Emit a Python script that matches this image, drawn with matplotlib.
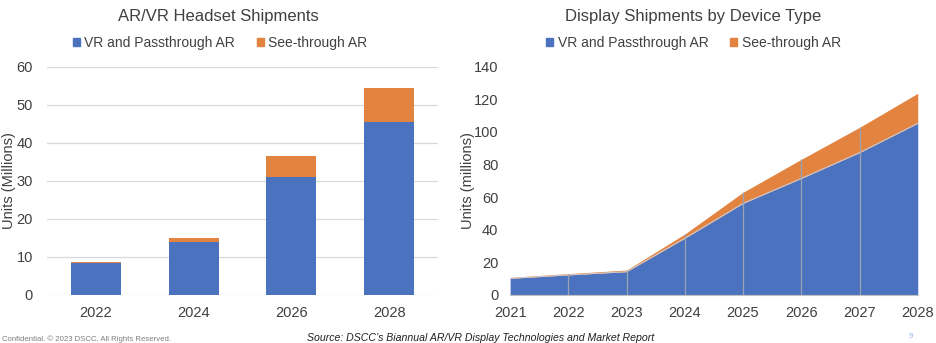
import matplotlib
matplotlib.use("Agg")
import matplotlib.pyplot as plt
from matplotlib.patches import Patch

plt.rcParams['font.family'] = ['Liberation Sans', 'DejaVu Sans']

# Left chart data
bar_years = ['2022', '2024', '2026', '2028']
bar_vr = [8.3, 13.8, 31.0, 45.5]
bar_see = [0.4, 1.2, 5.5, 8.9]

# Right chart data
area_years = [2021, 2022, 2023, 2024, 2025, 2026, 2027, 2028]
area_vr = [10.2, 12.3, 14.3, 34.8, 56.2, 71.5, 87.3, 105.3]
area_see = [0.6, 0.8, 1.0, 2.6, 6.8, 11.7, 15.5, 18.4]

series_names = ['VR and Passthrough AR', 'See-through AR']
BLUE = '#4A72BE'
ORANGE = '#E2833F'
TXT = '#404040'

fig = plt.figure(figsize=(9.36, 3.43), dpi=100)

# ---- Left: stacked bars
ax1 = fig.add_axes([0.0502, 0.140, 0.4178, 0.6655])
x = range(len(bar_years))
ax1.bar(x, bar_vr, width=0.51, color=BLUE, zorder=3)
ax1.bar(x, bar_see, bottom=bar_vr, width=0.51, color=ORANGE, zorder=3)
ax1.set_ylim(0, 60)
ax1.set_xlim(-0.5, len(bar_years) - 0.5)
ax1.set_yticks(range(0, 61, 10))
ax1.set_xticks(list(x))
ax1.set_xticklabels(bar_years)
ax1.yaxis.grid(True, color='#d9d9d9', linewidth=0.9, zorder=0)
for s in ax1.spines.values():
    s.set_visible(False)
ax1.tick_params(length=0, labelsize=10.5, colors=TXT)
ax1.tick_params(axis='y', pad=10)
ax1.tick_params(axis='x', pad=8)
ax1.set_ylabel('Units (Millions)', fontsize=10.5, color=TXT)
ax1.yaxis.set_label_coords(-0.080, 0.5)

# ---- Right: stacked area
ax2 = fig.add_axes([0.545, 0.140, 0.4355, 0.6655])
tot = [a + b for a, b in zip(area_vr, area_see)]
ax2.fill_between(area_years, 0, area_vr, color=BLUE, linewidth=0, zorder=2)
ax2.fill_between(area_years, area_vr, tot, color=ORANGE, linewidth=0, zorder=2)
ax2.plot(area_years, area_vr, color='#c9d3e8', linewidth=0.6, zorder=3)
ax2.vlines(area_years[1:-1], 0, tot[1:-1], color='#9aa3b5', linewidth=0.9, zorder=3)
ax2.set_xlim(area_years[0], area_years[-1])
ax2.set_ylim(0, 140)
ax2.set_yticks(range(0, 141, 20))
ax2.set_xticks(area_years)
for k, s in ax2.spines.items():
    s.set_visible(k == 'bottom')
ax2.spines['bottom'].set_color('#bfbfbf')
ax2.tick_params(length=0, labelsize=10.5, colors=TXT)
ax2.tick_params(axis='y', pad=8.5)
ax2.tick_params(axis='x', pad=8)
ax2.set_ylabel('Units (millions)', fontsize=10.5, color=TXT)
ax2.yaxis.set_label_coords(-0.087, 0.5)

# Titles
fig.text(0.233, 0.953, 'AR/VR Headset Shipments', ha='center', va='center',
         fontsize=12, color=TXT)
fig.text(0.740, 0.953, 'Display Shipments by Device Type', ha='center', va='center',
         fontsize=12, color=TXT)

handles = [Patch(color=BLUE, label=series_names[0]),
           Patch(color=ORANGE, label=series_names[1])]
for cx in (0.235, 0.741):
    fig.legend(handles=handles, loc='center', bbox_to_anchor=(cx, 0.874),
               ncol=2, frameon=False, fontsize=10, handlelength=0.5,
               handleheight=0.5, handletextpad=0.3, columnspacing=1.6,
               labelcolor=TXT)

# Footer
fig.text(0.002, 0.012, 'Confidential. © 2023 DSCC. All Rights Reserved.',
         fontsize=5.6, color='#7f7f7f', ha='left', va='center')
fig.text(0.513, 0.014, 'Source: DSCC\u2019s Biannual AR/VR Display Technologies and Market Report',
         fontsize=7.6, style='italic', color='#202020', ha='center', va='center')
fig.text(0.973, 0.018, '9', fontsize=5.5, color='#8fb4e3', ha='center', va='center')

fig.savefig('out.png', dpi=100)
